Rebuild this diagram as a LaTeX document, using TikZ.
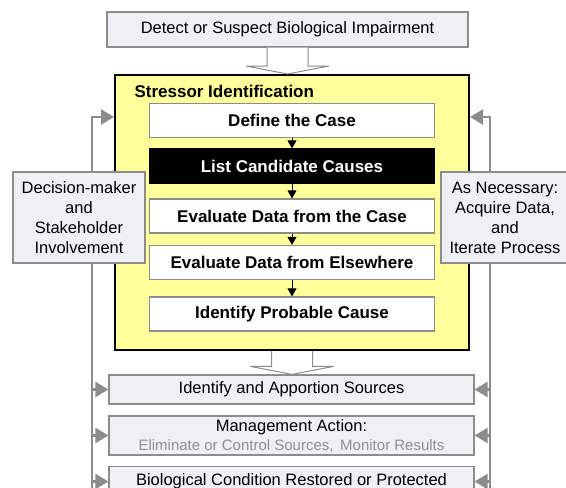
\documentclass[tikz,border=0pt]{standalone}
\usepackage{fontspec}
\setmainfont{Liberation Sans}
\usetikzlibrary{calc,arrows.meta}
\definecolor{boxgray}{HTML}{EFEFF4}
\definecolor{linegray}{HTML}{8C8C8C}
\definecolor{textgray}{HTML}{909090}
\definecolor{siyellow}{HTML}{FFFF9C}
\tikzset{
  greybox/.style={draw=linegray, line width=1.2pt, fill=boxgray, inner sep=0pt, align=center, font=\fontsize{16.5}{20}\selectfont},
  whitebox/.style={draw=linegray, line width=1.2pt, fill=white, minimum width=285pt, minimum height=34pt, inner sep=0pt, font=\fontsize{17}{20}\selectfont\bfseries},
  blackbox/.style={whitebox, draw=black, fill=black, text=white},
  flowarrow/.style={-{Triangle[length=8pt,width=9pt]}, line width=1pt, black},
  fbline/.style={linegray, line width=2.4pt, -{Triangle[length=13pt,width=15pt]}},
  fatarrow/.style={draw=linegray, line width=1pt, fill=white},
}
\def\fatarrow(#1)(#2){\draw[fatarrow] ($(#1.south)+(-20.5,0)$) -- ($(#1.south |- #2.north)+(-20.5,-8)$) -- ++(-21,0) -- (#1.south |- #2.north) -- ($(#1.south |- #2.north)+(41.5,-8)$) -- ++(-21,0) -- ($(#1.south)+(20.5,0)$);}

\begin{document}
\begin{tikzpicture}[x=1pt, y=-1pt]
		%%%%% START %%%%%
		\useasboundingbox (0,0) rectangle (566,488);
		
		% feedback lines, behind everything
		\coordinate (lbot) at (92,495);
		\coordinate (ltop) at (92,117);
		\coordinate (rbot) at (490,495);
		\coordinate (rtop) at (490,117);
		
		\node[draw=black, line width=2pt, fill=siyellow, minimum width=354pt, minimum height=275pt, inner sep=0pt] (si) at (292,212.5) {};
		\node[anchor=west, font=\fontsize{17}{20}\selectfont\bfseries] (sititle) at (131,91) {Stressor Identification};
		
		\draw[fbline] (lbot) -- (ltop) -- (si.west |- ltop);
		\draw[fbline] (rbot) -- (rtop) -- (si.east |- rtop);
		
		\node[greybox, minimum width=361pt, minimum height=35pt] (detect) at (287.5,29.5) {Detect or Suspect Biological Impairment};
		
		\node[whitebox] (define) at (292,120.5) {Define the Case};
		\node[blackbox] (list) at (292,166) {List Candidate Causes};
		\node[whitebox] (evalcase) at (292,216) {Evaluate Data from the Case};
		\node[whitebox] (evalelse) at (292,262.5) {Evaluate Data from Elsewhere};
		\node[whitebox] (probable) at (292,314) {Identify Probable Cause};
		
		\draw[flowarrow] (define) -- (list);
		\draw[flowarrow] (list) -- (evalcase);
		\draw[flowarrow] (evalcase) -- (evalelse);
		\draw[flowarrow] (evalelse) -- (probable);
		
		\node[greybox, minimum width=365pt, minimum height=29pt] (sources) at (291.5,389.5) {Identify and Apportion Sources};
		\node[greybox, minimum width=365pt, minimum height=39pt] (mgmt) at (291.5,435.5) {Management Action:\\[-1pt]{\color{textgray}\fontsize{15}{17}\selectfont Eliminate or Control Sources,\, Monitor Results}};
		\node[greybox, minimum width=365pt, minimum height=30pt] (biocond) at (291.5,481.5) {Biological Condition Restored or Protected};
		
		\fatarrow(detect)(si)
		\fatarrow(si)(sources)
		
		\draw[fbline] (lbot |- sources.west) -- (sources.west);
		\draw[fbline] (lbot |- mgmt.west) -- (mgmt.west);
		\draw[fbline] (lbot |- biocond.west) -- (biocond.west);
		\draw[fbline] (rbot |- sources.east) -- (sources.east);
		\draw[fbline] (rbot |- mgmt.east) -- (mgmt.east);
		\draw[fbline] (rbot |- biocond.east) -- (biocond.east);
		
		\node[greybox, minimum width=132pt, minimum height=91pt] (stake) at (79,217.5) {Decision-maker\\and\\Stakeholder\\Involvement};
		\node[greybox, minimum width=128pt, minimum height=91pt] (iterate) at (505,217.5) {As Necessary:\\Acquire Data,\\and\\Iterate Process};
		
		%%%%% END %%%%%
\end{tikzpicture}
\end{document}
